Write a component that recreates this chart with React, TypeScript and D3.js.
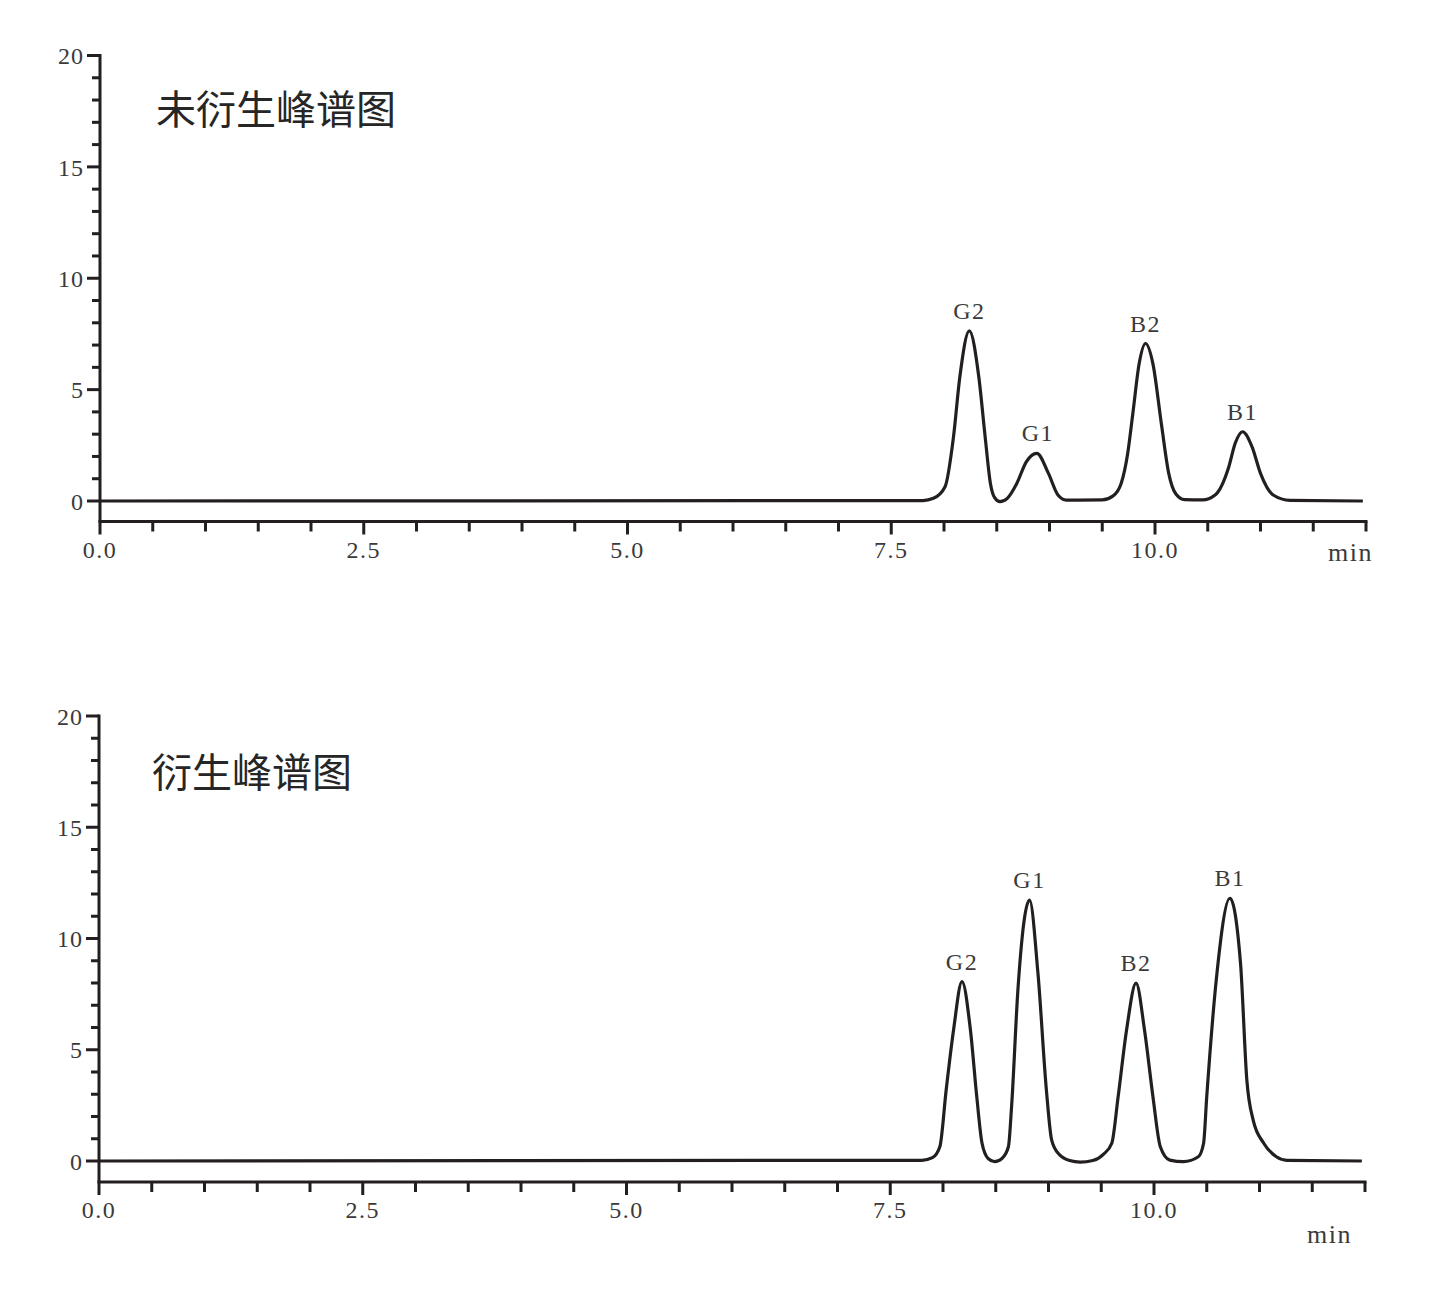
import React from "react";
import * as d3 from "d3";

// ---------- data ----------
const xTickValues = d3.range(0, 12.01, 0.5);
const xTickLabels = ["0.0", "2.5", "5.0", "7.5", "10.0"];
const yTickValues = d3.range(0, 21, 1);
const yTickLabels = ["0", "5", "10", "15", "20"];

// 未衍生 (underivatized) chromatogram: [time (min), signal]
const underivTrace: [number, number][] = [
  [0, 0], [7.8, 0.02], [7.9, 0.12], [8.01, 0.64], [8.09, 2.88], [8.15, 5.57], [8.24, 7.64],
  [8.33, 5.57], [8.39, 2.88], [8.44, 0.79], [8.48, 0.15], [8.53, -0.03], [8.6, 0.12],
  [8.69, 0.79], [8.78, 1.76], [8.88, 2.14], [8.99, 1.24], [9.08, 0.27], [9.16, 0.04],
  [9.5, 0.05], [9.6, 0.22], [9.68, 0.8], [9.74, 2.1], [9.79, 3.93], [9.85, 6.17], [9.91, 7.07],
  [9.98, 6.17], [10.06, 3.48], [10.13, 1.24], [10.2, 0.3], [10.28, 0.06], [10.45, 0.05],
  [10.57, 0.27], [10.7, 1.54], [10.76, 2.59], [10.83, 3.11], [10.92, 2.43], [11.0, 1.24],
  [11.12, 0.27], [11.28, 0.03], [11.97, 0.0],
];
const underivPeaks = [
  { name: "G2", t: 8.24, v: 7.64 },
  { name: "G1", t: 8.89, v: 2.14 },
  { name: "B2", t: 9.91, v: 7.07 },
  { name: "B1", t: 10.83, v: 3.11 },
];

// 衍生 (derivatized) chromatogram
const derivTrace: [number, number][] = [
  [0, 0], [7.8, 0.03], [7.9, 0.15], [7.97, 0.64], [8.03, 3.19], [8.1, 5.89], [8.18, 8.06],
  [8.26, 5.89], [8.32, 2.89], [8.37, 0.8], [8.43, 0.1], [8.49, -0.03], [8.56, 0.12],
  [8.62, 0.64], [8.65, 2.44], [8.71, 7.69], [8.82, 11.73], [8.9, 8.44], [8.98, 3.19],
  [9.03, 0.94], [9.1, 0.3], [9.2, 0.02], [9.3, -0.05], [9.42, 0.02], [9.52, 0.3],
  [9.6, 0.8], [9.66, 2.89], [9.74, 5.89], [9.83, 7.99], [9.91, 5.89], [9.99, 2.89],
  [10.06, 0.64], [10.15, 0.04], [10.28, -0.03], [10.42, 0.19], [10.47, 0.8], [10.5, 2.89],
  [10.59, 8.13], [10.72, 11.81], [10.82, 8.89], [10.88, 3.64], [10.94, 1.84], [11.04, 0.8],
  [11.16, 0.19], [11.26, 0.03], [11.97, 0.0],
];
const derivPeaks = [
  { name: "G2", t: 8.18, v: 8.06 },
  { name: "G1", t: 8.82, v: 11.73 },
  { name: "B2", t: 9.83, v: 7.99 },
  { name: "B1", t: 10.72, v: 11.81 },
];

const titles = ["未衍生峰谱图", "衍生峰谱图"];
const xUnit = "min";

// ---------- drawing ----------
const INK = "#231f20";
const TEXT = "#3a3a3a";
const SERIF = "'Liberation Serif', 'DejaVu Serif', serif";
const CJK = "'Noto Sans CJK SC', 'Noto Sans', sans-serif";

type PanelProps = {
  trace: [number, number][];
  peaks: { name: string; t: number; v: number }[];
  title: string;
  x0: number;
  x1: number;
  yTop: number;
  yZero: number;
  axisY: number;
  titleX: number;
  titleY: number;
  titleSize: number;
  minX: number;
  minY: number;
};

function Panel(p: PanelProps) {
  const x = d3.scaleLinear().domain([0, 12]).range([p.x0, p.x1]);
  const y = d3.scaleLinear().domain([0, 20]).range([p.yZero, p.yTop]);
  const line = d3
    .line<[number, number]>()
    .x((d) => x(d[0]))
    .y((d) => y(d[1]))
    .curve(d3.curveMonotoneX);
  const ax = x(0);
  const isMajorX = (t: number) => Math.abs(t / 2.5 - Math.round(t / 2.5)) < 1e-6;
  return (
    <g>
      {/* y axis */}
      <line x1={ax} x2={ax} y1={y(20) - 1.5} y2={p.axisY} stroke={INK} strokeWidth={3} />
      {yTickValues.map((v) => (
        <line
          key={"yt" + v}
          x1={ax - (v % 5 === 0 ? 13 : 8)}
          x2={ax}
          y1={y(v)}
          y2={y(v)}
          stroke={INK}
          strokeWidth={3}
        />
      ))}
      {yTickLabels.map((s) => (
        <text
          key={"yl" + s}
          x={ax - 16}
          y={y(+s)}
          dy="0.36em"
          textAnchor="end"
          fontFamily={SERIF}
          fontSize={24}
          letterSpacing={1}
          fill={TEXT}
        >
          {s}
        </text>
      ))}
      {/* x axis */}
      <line x1={ax - 1.5} x2={x(12) + 1.5} y1={p.axisY} y2={p.axisY} stroke={INK} strokeWidth={3} />
      {xTickValues.map((t) => (
        <line
          key={"xt" + t}
          x1={x(t)}
          x2={x(t)}
          y1={p.axisY}
          y2={p.axisY + (isMajorX(t) ? 13 : 10)}
          stroke={INK}
          strokeWidth={3}
        />
      ))}
      {xTickLabels.map((s) => (
        <text
          key={"xl" + s}
          x={x(+s)}
          y={p.axisY + 36}
          textAnchor="middle"
          fontFamily={SERIF}
          fontSize={24}
          letterSpacing={1.5}
          fill={TEXT}
        >
          {s}
        </text>
      ))}
      <text x={p.minX} y={p.minY} fontFamily={SERIF} fontSize={26} letterSpacing={1.5} fill={TEXT}>
        {xUnit}
      </text>
      {/* trace */}
      <path d={line(p.trace) || ""} fill="none" stroke={INK} strokeWidth={3.2} strokeLinejoin="round" />
      {p.peaks.map((pk) => (
        <text
          key={pk.name}
          x={x(pk.t)}
          y={y(pk.v) - 12}
          textAnchor="middle"
          fontFamily={SERIF}
          fontSize={24}
          letterSpacing={1.5}
          fill={TEXT}
        >
          {pk.name}
        </text>
      ))}
      <text x={p.titleX} y={p.titleY} fontFamily={CJK} fontSize={p.titleSize} fill="#262626">
        {p.title}
      </text>
    </g>
  );
}

export default function App() {
  return (
    <svg
      width={1440}
      height={1308}
      viewBox="0 0 1440 1308"
      style={{ position: "absolute", left: 0, top: 0, background: "#fff" }}
    >
      <rect width={1440} height={1308} fill="#fff" />
      <Panel
        trace={underivTrace}
        peaks={underivPeaks}
        title={titles[0]}
        x0={100}
        x1={1366}
        yTop={55.5}
        yZero={501}
        axisY={521.5}
        titleX={156}
        titleY={124}
        titleSize={40}
        minX={1328}
        minY={561}
      />
      <Panel
        trace={derivTrace}
        peaks={derivPeaks}
        title={titles[1]}
        x0={99}
        x1={1365}
        yTop={716}
        yZero={1161}
        axisY={1182}
        titleX={152}
        titleY={787}
        titleSize={40}
        minX={1307}
        minY={1243}
      />
    </svg>
  );
}
